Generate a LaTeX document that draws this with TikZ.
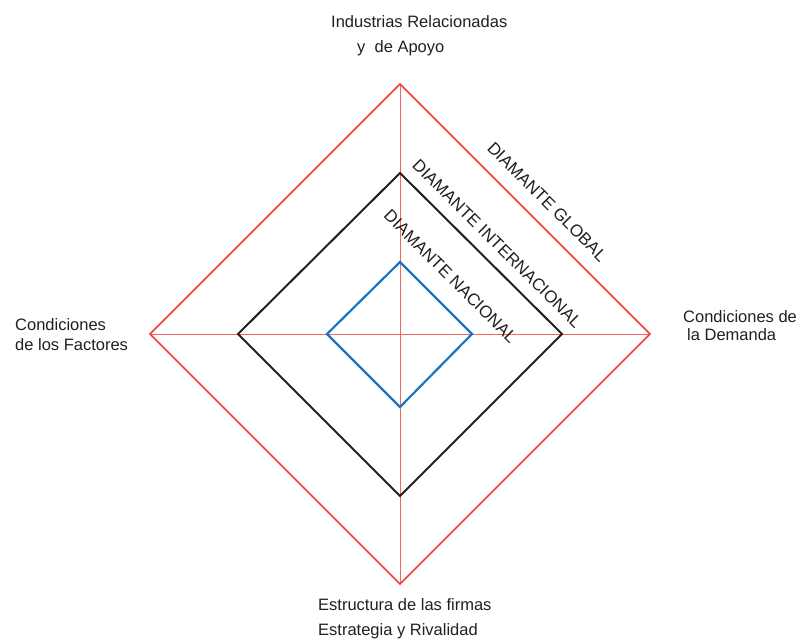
\documentclass[tikz,border=0pt]{standalone}
\usepackage{fontspec}
\setmainfont{Liberation Sans}
\usetikzlibrary{positioning}
\definecolor{dmred}{HTML}{EE4037}
\definecolor{dmblue}{HTML}{1C75BC}
\definecolor{dmink}{HTML}{231F20}

\begin{document}
\begin{tikzpicture}[x=1pt, y=-1pt, font=\fontsize{16.5}{19}\selectfont, text=dmink,
  lbl/.style={inner sep=0pt, anchor=base west},
  tag/.style={sloped, above, inner xsep=0pt, text=dmink, font=\fontsize{17}{19}\selectfont}]
  \useasboundingbox (0,0) rectangle (803,641);

  % global diamond corners
  \coordinate (gt) at (400,84);
  \coordinate (gr) at (650,334);
  \coordinate (gb) at (400,584);
  \coordinate (gl) at (150,334);
  % international diamond corners
  \coordinate (it) at (400,173);
  \coordinate (ir) at (562,334);
  \coordinate (ib) at (400,496);
  \coordinate (il) at (238,334);
  % national diamond corners
  \coordinate (nt) at (400,262);
  \coordinate (nr) at (472,334);
  \coordinate (nb) at (400,407);
  \coordinate (nl) at (327,334);

  % axes
  \draw[dmred!80, line width=0.8pt] (gt) -- (gb) (gl) -- (gr);

  \draw[dmred, line width=1.6pt, line join=miter] (gt) -- (gr)
    node[tag, pos=0.53, inner ysep=14pt] (glob) {DIAMANTE GLOBAL}
    -- (gb) -- (gl) -- cycle;
  \draw[dmink, line width=2pt, line join=miter] (it) -- (ir)
    node[tag, pos=0.52, inner ysep=11.5pt] (intl) {DIAMANTE INTERNACIONAL}
    -- (ib) -- (il) -- cycle;
  \draw[dmblue, line width=2.2pt, line join=miter] (nt) -- (nr)
    node[tag, pos=0.45, inner ysep=18.5pt] (nac) {DIAMANTE NACIONAL}
    -- (nb) -- (nl) -- cycle;

  % the four determinants
  \node[lbl] (ind1) at (331,27) {Industrias Relacionadas};
  \node[lbl] (ind2) at (357,52) {y\ \ de Apoyo};
  \node[lbl] (fac1) at (15,330) {Condiciones};
  \node[lbl] (fac2) at (15,350) {de los Factores};
  \node[lbl] (dem1) at (683,322) {Condiciones de};
  \node[lbl] (dem2) at (687,340) {la Demanda};
  \node[lbl] (est1) at (318,610) {Estructura de las firmas};
  \node[lbl] (est2) at (318,635) {Estrategia y Rivalidad};
\end{tikzpicture}
\end{document}
